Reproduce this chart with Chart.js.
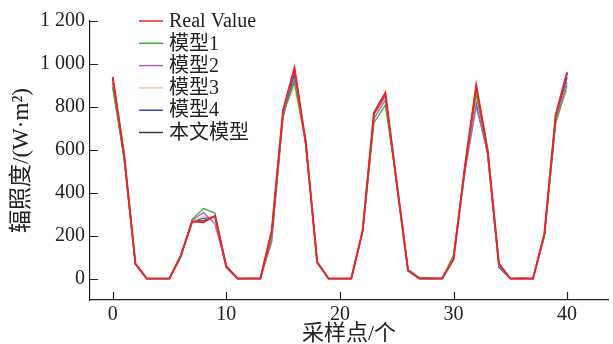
<!DOCTYPE html>
<html>
<head>
<meta charset="utf-8">
<script src="https://cdn.jsdelivr.net/npm/chart.js@4"></script>
<style>
  html, body { margin: 0; padding: 0; background: #fff; }
  #wrap { width: 613px; height: 344px; position: relative; }
</style>
</head>
<body>
<div id="wrap"><canvas id="c"></canvas></div>
<script>
// valores (41 puntos de muestreo)
const realValue = [940, 580, 69, 0, 0, 0, 108, 266, 262, 292, 54, 0, 0, 0, 223, 785, 982, 631, 77, 0, 0, 0, 223, 772, 865, 446, 38, 0, 0, 0, 90, 520, 900, 600, 69, 0, 0, 0, 208, 762, 961];
const model1 = [890, 560, 65, 0, 0, 0, 100, 277, 326, 305, 60, 0, 0, 0, 190, 770, 915, 640, 72, 0, 0, 0, 215, 726, 808, 450, 42, 5, 3, 0, 110, 500, 862, 585, 65, 0, 3, 0, 195, 723, 900];
const model2 = [895, 570, 66, 0, 0, 0, 104, 272, 308, 254, 55, 0, 2, 0, 170, 765, 930, 625, 74, 0, 0, 0, 220, 745, 831, 440, 35, 0, 0, 2, 95, 495, 800, 590, 60, 0, 0, 0, 200, 740, 915];
const model3 = [900, 575, 68, 0, 0, 0, 102, 268, 289, 285, 57, 0, 0, 0, 205, 775, 892, 628, 75, 0, 0, 0, 218, 755, 840, 445, 37, 0, 0, 0, 95, 505, 845, 595, 66, 0, 0, 0, 205, 745, 877];
const model4 = [910, 560, 67, 0, 0, 0, 106, 268, 280, 289, 56, 0, 0, 0, 210, 754, 954, 620, 73, 0, 0, 0, 221, 760, 846, 440, 36, 0, 0, 0, 92, 510, 823, 580, 52, 0, 0, 0, 205, 755, 938];
const ourModel = [935, 578, 69, 0, 0, 0, 107, 266, 270, 290, 54, 0, 0, 0, 222, 782, 975, 630, 76, 0, 0, 0, 223, 770, 860, 446, 38, 0, 0, 0, 90, 518, 893, 598, 68, 0, 0, 0, 207, 760, 955];

const seriesNames = ['Real Value', '模型1', '模型2', '模型3', '模型4', '本文模型'];
const xTicks = [0, 10, 20, 30, 40];
const yTicks = [0, 200, 400, 600, 800, 1000, 1200];

const FONT = '"Liberation Serif", "Noto Sans CJK SC", serif';

function toPoints(arr) {
    return arr.map((v, i) => ({ x: i, y: v }));
}

function makeSet(label, values, color, width) {
    return {
        label: label,
        data: toPoints(values),
        borderColor: color,
        backgroundColor: color,
        borderWidth: width,
        pointRadius: 0,
        tension: 0,
        fill: false
    };
}

// ticks hacia dentro, como en la figura original
const inwardTicks = {
    id: 'inwardTicks',
    afterDraw(chart) {
        const ctx = chart.ctx;
        const area = chart.chartArea;
        const x = chart.scales.x, y = chart.scales.y;
        ctx.save();
        ctx.strokeStyle = '#222';
        ctx.lineWidth = 1.2;
        ctx.beginPath();
        x.ticks.forEach(t => {
            const px = Math.round(x.getPixelForValue(t.value)) + 0.5;
            ctx.moveTo(px, area.bottom);
            ctx.lineTo(px, area.bottom - 8);
        });
        y.ticks.forEach(t => {
            const py = Math.round(y.getPixelForValue(t.value)) + 0.5;
            ctx.moveTo(area.left, py);
            ctx.lineTo(area.left + 8, py);
        });
        ctx.stroke();
        ctx.restore();
    }
};

// leyenda dentro del area del grafico
const innerLegend = {
    id: 'innerLegend',
    afterDraw(chart) {
        const ctx = chart.ctx;
        ctx.save();
        ctx.font = '20px ' + FONT;
        ctx.textBaseline = 'middle';
        chart.data.datasets.forEach((ds, i) => {
            const yy = 21 + i * 22.3;
            ctx.strokeStyle = ds.borderColor;
            ctx.lineWidth = 1.5;
            ctx.beginPath();
            ctx.moveTo(139, yy);
            ctx.lineTo(163, yy);
            ctx.stroke();
            ctx.fillStyle = '#222';
            ctx.fillText(ds.label, 169, yy + 1);
        });
        ctx.restore();
    }
};

new Chart(document.getElementById('c').getContext('2d'), {
    type: 'line',
    data: {
        datasets: [
            makeSet(seriesNames[0], realValue, '#e8262a', 2),
            makeSet(seriesNames[1], model1, '#45a83f', 1.3),
            makeSet(seriesNames[2], model2, '#b464c4', 1.3),
            makeSet(seriesNames[3], model3, '#fbc695', 1.3),
            makeSet(seriesNames[4], model4, '#2d4fae', 1.3),
            makeSet(seriesNames[5], ourModel, '#3c3c3c', 1.3)
        ]
    },
    options: {
        responsive: true,
        maintainAspectRatio: false,
        animation: false,
        layout: { padding: { top: 21, right: 5, left: 0, bottom: 0 } },
        plugins: {
            legend: { display: false },
            tooltip: { enabled: false }
        },
        scales: {
            x: {
                type: 'linear',
                min: -2,
                max: 43.6,
                afterBuildTicks: s => { s.ticks = xTicks.map(v => ({ value: v })); },
                afterFit: s => { s.height = 44; },
                grid: { drawOnChartArea: false, drawTicks: false },
                border: { color: '#222', width: 1.2 },
                ticks: { font: { family: FONT, size: 20 }, color: '#222', padding: 3, maxRotation: 0 },
                title: {
                    display: true,
                    text: '采样点/个',
                    font: { family: FONT, size: 22, lineHeight: 0.9 },
                    color: '#222',
                    padding: { top: 0, bottom: 0 }
                }
            },
            y: {
                min: -100,
                max: 1200,
                afterBuildTicks: s => { s.ticks = yTicks.map(v => ({ value: v })); },
                afterFit: s => { s.width = 90; },
                grid: { drawOnChartArea: false, drawTicks: false },
                border: { color: '#222', width: 1.2 },
                ticks: {
                    font: { family: FONT, size: 20 },
                    color: '#222',
                    padding: 5,
                    callback: v => String(v).replace(/\B(?=(\d{3})+(?!\d))/g, ' ')
                },
                title: {
                    display: true,
                    text: '辐照度/(W·m²)',
                    font: { family: FONT, size: 23 },
                    color: '#222',
                    padding: { top: 8, bottom: 0 }
                }
            }
        }
    },
    plugins: [inwardTicks, innerLegend]
});
</script>
</body>
</html>
